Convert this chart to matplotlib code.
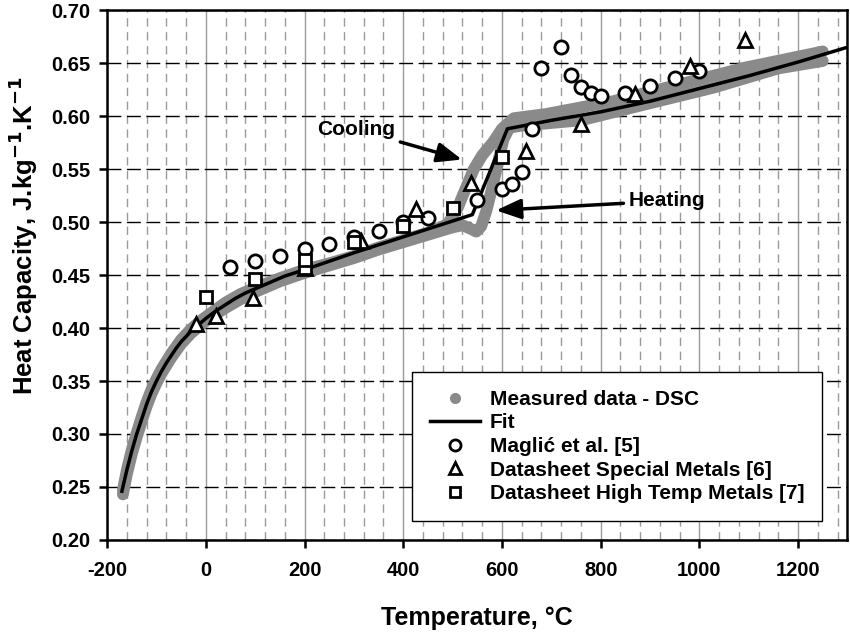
"""
Heat capacity vs temperature: DSC measurement, fit and literature data.
"""

import matplotlib
matplotlib.use("Agg")
import matplotlib.pyplot as plt
from matplotlib.lines import Line2D
from matplotlib.ticker import MultipleLocator, FormatStrFormatter

plt.rcParams.update({
    "font.family": ["Liberation Sans", "DejaVu Sans"],
    "font.weight": "bold",
    "axes.labelweight": "bold",
    "axes.unicode_minus": False,
})

# ================================================================
# Data
# ================================================================
# DSC heating run (shows the dip near 550 C)
heat_T = [-168, -160, -150, -140, -130, -120, -110, -100, -90, -70, -50, -30,
          -10, 10, 40, 70, 100, 150, 200, 250, 300, 350, 400, 450, 500, 520,
          535, 548, 558, 568, 580, 592, 603, 615, 640, 760, 890, 1030, 1160,
          1250]
heat_cp = [0.243, 0.262, 0.281, 0.297, 0.312, 0.326, 0.338, 0.348, 0.357,
           0.372, 0.385, 0.395, 0.403, 0.410, 0.419, 0.427, 0.434, 0.444,
           0.452, 0.459, 0.466, 0.474, 0.481, 0.488, 0.495, 0.497, 0.494,
           0.491, 0.496, 0.510, 0.532, 0.556, 0.578, 0.589, 0.591, 0.596,
           0.611, 0.627, 0.645, 0.652]

# DSC cooling run
cool_T = [-168, -160, -150, -140, -130, -120, -110, -100, -90, -70, -50, -30,
          -10, 10, 40, 70, 100, 150, 200, 250, 300, 350, 400, 450, 490, 510,
          525, 543, 560, 583, 600, 624, 690, 825, 960, 1095, 1230, 1250]
cool_cp = [0.247, 0.266, 0.285, 0.301, 0.316, 0.330, 0.342, 0.352, 0.361,
           0.376, 0.389, 0.399, 0.407, 0.414, 0.424, 0.432, 0.438, 0.447,
           0.455, 0.461, 0.468, 0.476, 0.483, 0.490, 0.498, 0.513, 0.530,
           0.550, 0.563, 0.576, 0.588, 0.598, 0.602, 0.614, 0.630, 0.646,
           0.659, 0.661]

# Fit
fit_T = [-170, -160, -150, -140, -130, -120, -110, -100, -90, -80, -70, -60,
         -50, -40, -30, -20, -10, 0, 20, 40, 60, 80, 100, 130, 160, 200, 300,
         400, 450, 500, 540, 611, 700, 800, 900, 1000, 1100, 1200, 1300]
fit_cp = [0.246, 0.266, 0.284, 0.300, 0.314, 0.328, 0.340, 0.350, 0.359,
          0.367, 0.374, 0.381, 0.387, 0.392, 0.397, 0.401, 0.405, 0.409,
          0.416, 0.422, 0.428, 0.433, 0.437, 0.443, 0.449, 0.455, 0.471,
          0.486, 0.4935, 0.501, 0.507, 0.588, 0.596, 0.604, 0.614, 0.626,
          0.638, 0.651, 0.665]

# Maglić et al. [5]
maglic_T = [50, 100, 150, 200, 250, 300, 350, 400, 450, 550, 600, 620, 640,
            660, 680, 720, 740, 760, 780, 800, 850, 900, 950, 1000]
maglic_cp = [0.458, 0.463, 0.468, 0.475, 0.479, 0.486, 0.492, 0.500, 0.504,
             0.521, 0.531, 0.536, 0.547, 0.588, 0.645, 0.665, 0.639, 0.627,
             0.622, 0.619, 0.622, 0.628, 0.636, 0.643]

# Datasheet Special Metals [6]
special_T = [-20, 20, 95, 200, 315, 425, 537, 648, 760, 870, 980, 1093]
special_cp = [0.404, 0.411, 0.428, 0.457, 0.482, 0.512, 0.537, 0.567, 0.593,
              0.621, 0.647, 0.672]

# Datasheet High Temp Metals [7]
hightemp_T = [0, 100, 200, 200, 300, 400, 500, 600]
hightemp_cp = [0.429, 0.446, 0.457, 0.464, 0.481, 0.496, 0.513, 0.561]

GRAY = "#8a8a8a"

# ================================================================
# Figure
# ================================================================
fig = plt.figure(figsize=(8.5, 6.33), dpi=100)
ax = fig.add_axes([0.126, 0.147, 0.871, 0.837])

# grid: horizontal major dashed black, vertical major solid / minor dashed gray
ax.set_xlim(-200, 1300)
ax.set_ylim(0.20, 0.70)
ax.xaxis.set_major_locator(MultipleLocator(200))
ax.xaxis.set_minor_locator(MultipleLocator(40))
ax.yaxis.set_major_locator(MultipleLocator(0.05))
ax.yaxis.set_major_formatter(FormatStrFormatter("%.2f"))
ax.grid(axis="y", which="major", color="black", linestyle=(0, (10, 4)), linewidth=1.0)
ax.grid(axis="x", which="major", color="#9a9a9a", linestyle="-", linewidth=1.0)
ax.grid(axis="x", which="minor", color="#9a9a9a", linestyle=(0, (6, 4)), linewidth=1.0)
ax.set_axisbelow(True)

# DSC band
ax.plot(heat_T, heat_cp, color=GRAY, lw=8.5, solid_capstyle="round",
        solid_joinstyle="round", zorder=2)
ax.plot(cool_T, cool_cp, color=GRAY, lw=8.5, solid_capstyle="round",
        solid_joinstyle="round", zorder=2)

# fit
ax.plot(fit_T, fit_cp, color="black", lw=2.5, zorder=3)

mk = dict(ls="none", mfc="white", mec="black", mew=2.0, zorder=4)
ax.plot(maglic_T, maglic_cp, marker="o", ms=9.5, **mk)
ax.plot(special_T, special_cp, marker="^", ms=9.5, **mk)
ax.plot(hightemp_T, hightemp_cp, marker="s", ms=8.5, **mk)

# annotations
arrow = dict(arrowstyle="-|>,head_length=1.0,head_width=0.4", color="black",
             lw=2.5, shrinkA=2, shrinkB=0)
ax.annotate("Cooling", xy=(519, 0.559), xytext=(304, 0.5875),
            ha="center", va="center", fontsize=15, fontweight="bold",
            arrowprops=arrow)
ax.annotate("Heating", xy=(588, 0.511), xytext=(935, 0.520),
            ha="center", va="center", fontsize=15, fontweight="bold",
            arrowprops=arrow)

# axes styling
for side in ["left", "bottom", "top", "right"]:
    ax.spines[side].set_linewidth(1.8)
    ax.spines[side].set_color("black")
ax.tick_params(axis="both", which="major", direction="out", length=6,
               width=1.8, labelsize=14.5)
ax.tick_params(axis="x", which="major", pad=9)
ax.tick_params(axis="y", which="major", pad=6)
ax.tick_params(axis="x", which="minor", length=0)
ax.tick_params(axis="both", top=False, right=False)

ax.set_xlabel("Temperature, °C", fontsize=18, fontweight="bold", labelpad=19)
ax.set_ylabel("Heat Capacity, J.kg$^{\\mathbf{-1}}$.K$^{\\mathbf{-1}}$",
              fontsize=18.5, fontweight="bold")
ax.yaxis.set_label_coords(-0.091, 0.575)

# legend
handles = [
    Line2D([], [], color=GRAY, marker="o", ls="none", ms=7),
    Line2D([], [], color="black", lw=2.5),
    Line2D([], [], marker="o", ls="none", mfc="white", mec="black", mew=2.0, ms=8),
    Line2D([], [], marker="^", ls="none", mfc="white", mec="black", mew=2.0, ms=8),
    Line2D([], [], marker="s", ls="none", mfc="white", mec="black", mew=2.0, ms=7),
]
labels = ["Measured data - DSC", "Fit", "Maglić et al. [5]",
          "Datasheet Special Metals [6]", "Datasheet High Temp Metals [7]"]
leg = ax.legend(handles, labels, loc="lower right", bbox_to_anchor=(0.966, 0.036),
                borderaxespad=0, prop={"weight": "bold", "size": 15},
                frameon=True, fancybox=False, edgecolor="black", framealpha=1,
                handlelength=2.4, handletextpad=0.5, labelspacing=0.22,
                borderpad=0.85)
leg.get_frame().set_linewidth(1.0)

fig.savefig("out.png", dpi=100)
